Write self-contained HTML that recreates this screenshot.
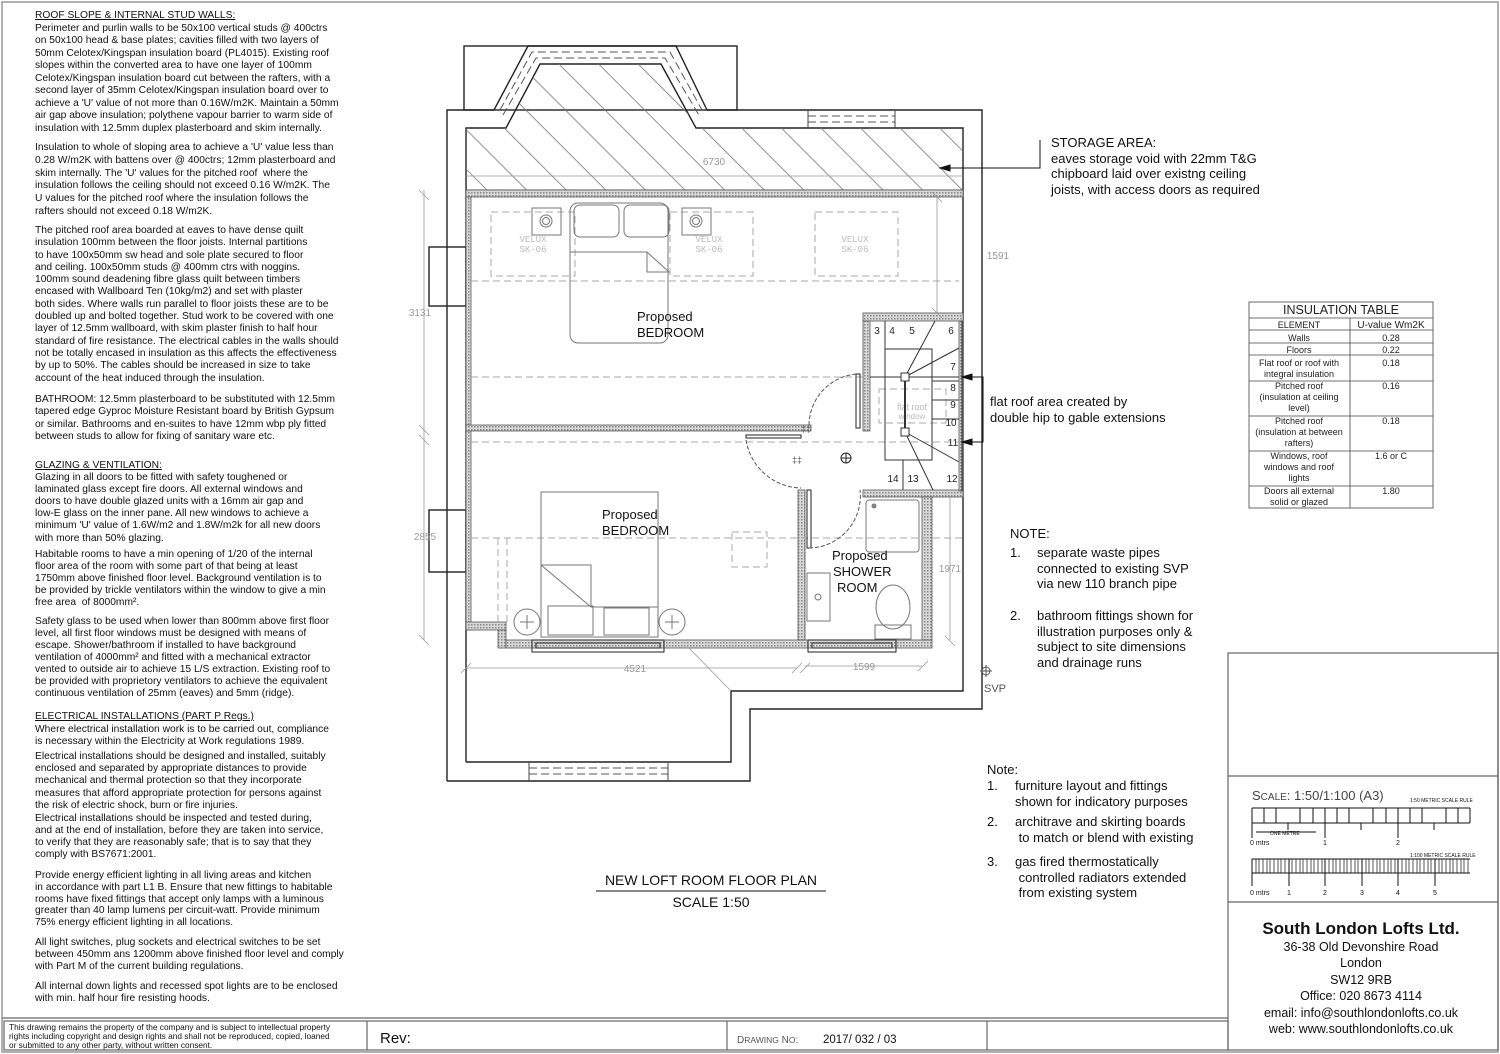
<!DOCTYPE html>
<html><head><meta charset="utf-8">
<style>
html,body{margin:0;padding:0;background:#fff;}
body{width:1500px;height:1054px;position:relative;overflow:hidden;font-family:"Liberation Sans",Arial,sans-serif;color:#111;}
.p{position:absolute;left:35px;font-size:10.25px;line-height:12.3px;white-space:nowrap;}
.u{text-decoration:underline;}
.n{position:absolute;font-size:13px;line-height:15.5px;white-space:nowrap;color:#111;}
svg{position:absolute;left:0;top:0;}
</style></head><body>
<svg width="1500" height="1054" viewBox="0 0 1500 1054">
<defs>
<pattern id="hatch" patternUnits="userSpaceOnUse" width="28" height="28" patternTransform="rotate(-45)">
<line x1="0" y1="0" x2="0" y2="28" stroke="#777" stroke-width="0.8" transform="translate(14,0)"/>
</pattern>
<pattern id="stip" patternUnits="userSpaceOnUse" width="3" height="3">
<rect width="3" height="3" fill="#d8d8d8"/><rect x="0" y="0" width="1.5" height="1.5" fill="#888"/>
</pattern>
</defs>
<rect x="2" y="2" width="1496" height="1050" fill="none" stroke="#999" stroke-width="1.5"/>
<g fill="none" stroke="#222" stroke-width="1.4">
<rect x="464" y="46" width="273" height="64"/>
<polyline points="447,781 447,110 494,110"/>
<polyline points="707,110 982,110 982,709 750,709 750,781 447,781"/>
<polyline points="494,110 528,46 676,46 707,110"/>
<polyline points="466,762 466,128 506,128 540,64 661,64 696,128 963,128 963,691 731,691 731,762 466,762"/>
<rect x="429" y="247" width="37" height="59"/>
<rect x="429" y="510" width="37" height="62"/>
</g>
<g fill="none" stroke="#555" stroke-width="1" stroke-dasharray="8,4">
<polyline points="500,110 532,52 670,52 702,110"/>
<polyline points="503,115 536,58 665,58 699,115"/>
<line x1="808" y1="116" x2="895" y2="116"/><line x1="808" y1="122" x2="895" y2="122"/>
<line x1="529" y1="768" x2="668" y2="768"/><line x1="529" y1="774" x2="668" y2="774"/>
</g>
<g stroke="#444" stroke-width="1"><line x1="808" y1="110" x2="808" y2="128"/><line x1="895" y1="110" x2="895" y2="128"/>
<line x1="529" y1="762" x2="529" y2="781"/><line x1="668" y1="762" x2="668" y2="781"/></g>
<polygon points="466,190 466,128 506,128 540,64 661,64 696,128 963,128 963,190" fill="url(#hatch)" stroke="none"/>
<line x1="466" y1="190" x2="963" y2="190" stroke="#444"/>
<g fill="url(#stip)" stroke="#555" stroke-width="0.8">
<rect x="466" y="190" width="497" height="7"/>
<rect x="466" y="197" width="5" height="433"/>
<rect x="466" y="425" width="345" height="6"/>
<rect x="863" y="313" width="100" height="8"/>
<rect x="863" y="321" width="7" height="110"/>
<rect x="466" y="622" width="40" height="8"/>
<rect x="498" y="630" width="8" height="18"/>
<rect x="506" y="640" width="426" height="8"/>
<rect x="798" y="490" width="7" height="150"/>
<rect x="863" y="490" width="100" height="7"/>
<rect x="922" y="497" width="10" height="143"/>
<rect x="959" y="321" width="4" height="170"/>
</g>
<g fill="none" stroke="#aaa" stroke-width="1" stroke-dasharray="7,4">
<line x1="471" y1="281" x2="959" y2="281"/>
<line x1="471" y1="377" x2="959" y2="377"/>
<line x1="471" y1="442" x2="959" y2="442"/>
<line x1="471" y1="538" x2="963" y2="538"/>
<rect x="491" y="212" width="84" height="64"/><rect x="670" y="212" width="83" height="64"/><rect x="815" y="212" width="83" height="64"/>
<rect x="732" y="532" width="35" height="35"/>
<line x1="498" y1="538" x2="498" y2="622"/><line x1="507" y1="538" x2="507" y2="622"/>
<rect x="879" y="389" width="67" height="34"/>
</g>
<g font-family="Liberation Mono,monospace" font-size="9" fill="#bbb" text-anchor="middle">
<text x="533" y="242">VELUX</text><text x="533" y="252">SK-06</text>
<text x="709" y="242">VELUX</text><text x="709" y="252">SK-06</text>
<text x="855" y="242">VELUX</text><text x="855" y="252">SK-06</text>
<text x="912" y="410" font-family="Liberation Sans" font-size="9">flat roof</text>
<text x="912" y="419" font-family="Liberation Sans" font-size="8">window</text>
</g>
<g fill="none" stroke="#777" stroke-width="1">
<rect x="570" y="203" width="98" height="140" rx="8"/>
<rect x="574" y="205" width="45" height="32" rx="6"/><rect x="624" y="205" width="45" height="32" rx="6"/>
<line x1="570" y1="252" x2="647" y2="252"/><polyline points="647,252 669,272 647,272 647,252"/>
<rect x="532" y="208" width="29" height="27"/><circle cx="546" cy="221" r="6"/><circle cx="546" cy="221" r="3.5"/>
<rect x="682" y="208" width="29" height="27"/><circle cx="696" cy="221" r="6"/><circle cx="696" cy="221" r="3.5"/>
<rect x="541" y="492" width="117" height="145"/>
<polyline points="541,565 591,565 591,607 658,607"/><line x1="541" y1="565" x2="591" y2="607"/>
<rect x="548" y="606" width="45" height="29"/><rect x="604" y="608" width="45" height="27"/>
<circle cx="527" cy="622" r="13"/><circle cx="672" cy="622" r="13"/>
<path d="M520 622h14M527 615v14M665 622h14M672 615v14"/>
<rect x="866" y="500" width="53" height="52" rx="3"/><circle cx="874" cy="506" r="2" fill="#888"/>
<rect x="807" y="573" width="23" height="48"/><circle cx="818" cy="597" r="3"/>
<ellipse cx="893" cy="607" rx="17" ry="22"/><rect x="875" y="625" width="36" height="14"/>
</g>
<g fill="none" stroke="#333" stroke-width="1">
<line x1="870" y1="377" x2="959" y2="377"/>
<line x1="885" y1="321" x2="885" y2="377"/>
<rect x="885" y="349" width="47" height="111"/>
<line x1="905" y1="377" x2="935" y2="321"/><line x1="905" y1="377" x2="959" y2="348"/>
<line x1="905" y1="377" x2="905" y2="432" stroke-width="2"/>
<line x1="932" y1="381" x2="959" y2="381"/><line x1="932" y1="400" x2="959" y2="400"/><line x1="932" y1="419" x2="959" y2="419"/>
<line x1="905" y1="432" x2="959" y2="462"/><line x1="905" y1="432" x2="933" y2="490"/>
<line x1="903" y1="460" x2="903" y2="490"/>
<rect x="901" y="373" width="8" height="8" fill="#fff"/><rect x="901" y="428" width="8" height="8" fill="#fff"/>
<line x1="962" y1="321" x2="962" y2="491"/>
</g>
<g font-size="10" fill="#222" text-anchor="middle">
<text x="877" y="334">3</text><text x="892" y="334">4</text><text x="912" y="334">5</text><text x="951" y="334">6</text>
<text x="953" y="370">7</text><text x="953" y="391">8</text><text x="953" y="408">9</text><text x="951" y="426">10</text><text x="953" y="446">11</text>
<text x="893" y="482">14</text><text x="913" y="482">13</text><text x="952" y="482">12</text>
</g>
<g fill="none" stroke="#222" stroke-width="1">
<rect x="856" y="374" width="4" height="54"/>
<path d="M809 425 A52 52 0 0 1 856 374" stroke-dasharray="4,2" stroke="#555"/>
<rect x="746" y="435" width="55" height="3"/>
<path d="M746 440 A57 57 0 0 0 801 488" stroke-dasharray="4,2" stroke="#555"/>
<rect x="807" y="490" width="4" height="58"/>
<path d="M809 548 A52 52 0 0 0 860 490" stroke-dasharray="4,2" stroke="#555"/>
<circle cx="846" cy="458" r="5"/><path d="M841 458h10M846 453v10"/>
<rect x="532" y="640" width="132" height="12"/><rect x="536" y="643" width="124" height="5"/>
<rect x="808" y="640" width="88" height="12"/><rect x="812" y="643" width="80" height="5"/>
</g>
<g font-size="9" fill="#555" text-anchor="middle"><text x="806" y="432">‡‡</text><text x="797" y="463">‡‡</text></g>
<g stroke="#999" stroke-width="0.8" fill="none">
<line x1="466" y1="176" x2="963" y2="176"/>
<line x1="424" y1="190" x2="424" y2="430"/><line x1="424" y1="430" x2="424" y2="640"/>
<line x1="937" y1="197" x2="937" y2="313"/>
<line x1="466" y1="668" x2="797" y2="668"/><line x1="805" y1="666" x2="922" y2="666"/>
<line x1="950" y1="497" x2="950" y2="640"/>
<line x1="689" y1="648" x2="731" y2="691"/>
<path d="M419 190l10 10M419 425l10 10M419 435l10 10M419 635l10 10M932 192l10 10M932 308l10 10M945 636l10 10M792 673l10-10M800 673l10-10M918 671l10-10M461 673l10-10"/>
</g>
<g font-size="10" fill="#999" text-anchor="middle">
<text x="714" y="165">6730</text>
<text x="420" y="316">3131</text><text x="425" y="540">2855</text>
<text x="998" y="259">1591</text>
<text x="635" y="672">4521</text><text x="864" y="670">1599</text>
<text x="950" y="572">1971</text>
</g>
<g fill="none" stroke="#555"><circle cx="986" cy="671" r="4"/><path d="M980 671h12M986 665v12"/></g>
<text x="984" y="692" font-size="11" fill="#555">SVP</text>
<g font-size="13" fill="#111">
<text x="637" y="321">Proposed</text><text x="637" y="337">BEDROOM</text>
<text x="602" y="519">Proposed</text><text x="602" y="535">BEDROOM</text>
<text x="832" y="560">Proposed</text><text x="833" y="576">SHOWER</text><text x="837" y="592">ROOM</text>
</g>
<g stroke="#111" stroke-width="1" fill="#111">
<polyline points="1040,140 1040,168 944,168" fill="none"/><polygon points="940,168 950,165 950,171"/>
<polyline points="962,377 983,377 983,442 962,442" fill="none"/>
<polygon points="962,377 972,374 972,380"/><polygon points="962,442 972,439 972,445"/>
</g>
<text x="711" y="885" font-size="14" text-anchor="middle" fill="#111">NEW LOFT ROOM FLOOR PLAN</text>
<line x1="596" y1="891" x2="826" y2="891" stroke="#111"/>
<text x="711" y="907" font-size="14" text-anchor="middle" fill="#111">SCALE 1:50</text>
<g fill="none" stroke="#444" stroke-width="0.8">
<rect x="1249" y="302" width="184" height="206"/>
<line x1="1249" y1="318" x2="1433" y2="318"/><line x1="1249" y1="330" x2="1433" y2="330"/>
<line x1="1249" y1="343" x2="1433" y2="343"/><line x1="1249" y1="355" x2="1433" y2="355"/>
<line x1="1249" y1="381" x2="1433" y2="381"/><line x1="1249" y1="416" x2="1433" y2="416"/>
<line x1="1249" y1="451" x2="1433" y2="451"/><line x1="1249" y1="486" x2="1433" y2="486"/>
<line x1="1350" y1="318" x2="1350" y2="508"/>
</g>
<g font-size="9" fill="#222" text-anchor="middle">
<text x="1341" y="314" font-size="12.5">INSULATION TABLE</text>
<text x="1299" y="328">ELEMENT</text><text x="1391" y="328" font-size="10">U-value Wm2K</text>
<text x="1299" y="341">Walls</text><text x="1391" y="341">0.28</text>
<text x="1299" y="353">Floors</text><text x="1391" y="353">0.22</text>
<text x="1299" y="366">Flat roof or roof with</text><text x="1299" y="377">integral insulation</text><text x="1391" y="366">0.18</text>
<text x="1299" y="389">Pitched roof</text><text x="1299" y="400">(insulation at ceiling</text><text x="1299" y="411">level)</text><text x="1391" y="389">0.16</text>
<text x="1299" y="424">Pitched roof</text><text x="1299" y="435">(insulation at between</text><text x="1299" y="446">rafters)</text><text x="1391" y="424">0.18</text>
<text x="1299" y="459">Windows, roof</text><text x="1299" y="470">windows and roof</text><text x="1299" y="481">lights</text><text x="1391" y="459">1.6 or C</text>
<text x="1299" y="494">Doors all external</text><text x="1299" y="505">solid or glazed</text><text x="1391" y="494">1.80</text>
</g>
<g fill="none" stroke="#666" stroke-width="1.2">
<rect x="1228" y="653" width="270" height="397"/>
<line x1="1228" y1="776" x2="1498" y2="776"/><line x1="1228" y1="902" x2="1498" y2="902"/>
<line x1="2" y1="1018" x2="1228" y2="1018"/>
<rect x="4" y="1021" width="1224" height="29"/>
<line x1="367" y1="1021" x2="367" y2="1050"/><line x1="727" y1="1021" x2="727" y2="1050"/><line x1="987" y1="1021" x2="987" y2="1050"/>
</g>
<text x="1252" y="800" font-size="13" fill="#444">S<tspan font-size="10">CALE</tspan>: 1:50/1:100 (A3)</text>
<text x="1410" y="802" font-size="5" fill="#111">1:50 METRIC SCALE RULE</text>
<text x="1410" y="857" font-size="5" fill="#111">1:100 METRIC SCALE RULE</text>
<g stroke="#111" stroke-width="1" fill="none">
<line x1="1252" y1="808" x2="1470" y2="808"/><line x1="1252" y1="823" x2="1470" y2="823"/>
<path d="M1252 808v30M1325 808v30M1398 808v30M1288 823v7M1361 823v7M1434 823v7M1264 808v15M1276 808v15M1300 808v15M1313 808v15M1337 808v15M1349 808v15M1373 808v15M1386 808v15M1410 808v15M1422 808v15M1446 808v15M1458 808v15M1470 808v15"/>
<path d="M1256 832h60"/>
<line x1="1252" y1="859" x2="1470" y2="859"/><line x1="1252" y1="873" x2="1470" y2="873"/>
<path d="M1252 859v27M1289 859v27M1325 859v27M1362 859v27M1398 859v27M1435 859v27"/>
</g>
<g stroke="#111" stroke-width="0.7"><path d="M1256 859v14M1259 859v14M1263 859v14M1267 859v14M1270 859v14M1274 859v14M1278 859v14M1281 859v14M1285 859v14M1292 859v14M1296 859v14M1300 859v14M1303 859v14M1307 859v14M1311 859v14M1314 859v14M1318 859v14M1322 859v14M1329 859v14M1333 859v14M1336 859v14M1340 859v14M1344 859v14M1347 859v14M1351 859v14M1355 859v14M1358 859v14M1366 859v14M1369 859v14M1373 859v14M1377 859v14M1380 859v14M1384 859v14M1388 859v14M1391 859v14M1395 859v14M1402 859v14M1406 859v14M1409 859v14M1413 859v14M1417 859v14M1420 859v14M1424 859v14M1428 859v14M1431 859v14M1439 859v14M1442 859v14M1446 859v14M1450 859v14M1453 859v14M1457 859v14M1461 859v14M1464 859v14M1468 859v14"/></g>
<g font-size="7" fill="#111">
<text x="1250" y="845">0 mtrs</text><text x="1323" y="845">1</text><text x="1396" y="845">2</text>
<text x="1270" y="835" font-size="5">ONE METRE</text>
<text x="1250" y="895">0 mtrs</text><text x="1287" y="895">1</text><text x="1323" y="895">2</text><text x="1360" y="895">3</text><text x="1396" y="895">4</text><text x="1433" y="895">5</text>
</g>
<g text-anchor="middle" fill="#111" font-size="12.5">
<text x="1361" y="934" font-size="17" font-weight="bold">South London Lofts Ltd.</text>
<text x="1361" y="951">36-38 Old Devonshire Road</text>
<text x="1361" y="967">London</text>
<text x="1361" y="984">SW12 9RB</text>
<text x="1361" y="1000">Office: 020 8673 4114</text>
<text x="1361" y="1017">email: info@southlondonlofts.co.uk</text>
<text x="1361" y="1033">web: www.southlondonlofts.co.uk</text>
</g>
<g fill="#111">
<text x="9" y="1030" font-size="8.3">This drawing remains the property of the company and is subject to intellectual property</text>
<text x="9" y="1039" font-size="8.3">rights including copyright and design rights and shall not be reproduced, copied, loaned</text>
<text x="9" y="1048" font-size="8.3">or submitted to any other party, without written consent.</text>
<text x="380" y="1043" font-size="15">Rev:</text>
<text x="737" y="1043" font-size="10" fill="#555">D<tspan font-size="8.5">RAWING</tspan> N<tspan font-size="8.5">O</tspan>:</text>
<text x="823" y="1043" font-size="11.5">2017/ 032 / 03</text>
</g>
</svg>

<div class="n" style="left:1051px;top:135px;">STORAGE AREA:<br>eaves storage void with 22mm T&amp;G<br>chipboard laid over existng ceiling<br>joists, with access doors as required</div>
<div class="n" style="left:990px;top:394px;">flat roof area created by<br>double hip to gable extensions</div>
<div class="n" style="left:1010px;top:526px;">NOTE:</div>
<div class="n" style="left:1010px;top:545px;">1.</div>
<div class="n" style="left:1037px;top:545px;">separate waste pipes<br>connected to existing SVP<br>via new 110 branch pipe</div>
<div class="n" style="left:1010px;top:608px;">2.</div>
<div class="n" style="left:1037px;top:608px;">bathroom fittings shown for<br>illustration purposes only &amp;<br>subject to site dimensions<br>and drainage runs</div>
<div class="n" style="left:987px;top:762px;">Note:</div>
<div class="n" style="left:987px;top:778px;">1.</div><div class="n" style="left:1015px;top:778px;">furniture layout and fittings<br>shown for indicatory purposes</div>
<div class="n" style="left:987px;top:814px;">2.</div><div class="n" style="left:1015px;top:814px;">architrave and skirting boards<br>&nbsp;to match or blend with existing</div>
<div class="n" style="left:987px;top:854px;">3.</div><div class="n" style="left:1015px;top:854px;">gas fired thermostatically<br>&nbsp;controlled radiators extended<br>&nbsp;from existing system</div>

<div class="p" style="top:10px;line-height:12.55px;"><span class="u">ROOF SLOPE &amp; INTERNAL STUD WALLS:</span><br>Perimeter and purlin walls to be 50x100 vertical studs @ 400ctrs<br>on 50x100 head &amp; base plates; cavities filled with two layers of<br>50mm Celotex/Kingspan insulation board (PL4015). Existing roof<br>slopes within the converted area to have one layer of 100mm<br>Celotex/Kingspan insulation board cut between the rafters, with a<br>second layer of 35mm Celotex/Kingspan insulation board over to<br>achieve a 'U' value of not more than 0.16W/m2K. Maintain a 50mm<br>air gap above insulation; polythene vapour barrier to warm side of<br>insulation with 12.5mm duplex plasterboard and skim internally.</div>
<div class="p" style="top:142px;line-height:12.8px;">Insulation to whole of sloping area to achieve a 'U' value less than<br>0.28 W/m2K with battens over @ 400ctrs; 12mm plasterboard and<br>skim internally. The 'U' values for the pitched roof&nbsp; where the<br>insulation follows the ceiling should not exceed 0.16 W/m2K. The<br>U values for the pitched roof where the insulation follows the<br>rafters should not exceed 0.18 W/m2K.</div>
<div class="p" style="top:225px;">The pitched roof area boarded at eaves to have dense quilt<br>insulation 100mm between the floor joists. Internal partitions<br>to have 100x50mm sw head and sole plate secured to floor<br>and ceiling. 100x50mm studs @ 400mm ctrs with noggins.<br>100mm sound deadening fibre glass quilt between timbers<br>encased with Wallboard Ten (10kg/m2) and set with plaster<br>both sides. Where walls run parallel to floor joists these are to be<br>doubled up and bolted together. Stud work to be covered with one<br>layer of 12.5mm wallboard, with skim plaster finish to half hour<br>standard of fire resistance. The electrical cables in the walls should<br>not be totally encased in insulation as this affects the effectiveness<br>by up to 50%. The cables should be increased in size to take<br>account of the heat induced through the insulation.</div>
<div class="p" style="top:394px;">BATHROOM: 12.5mm plasterboard to be substituted with 12.5mm<br>tapered edge Gyproc Moisture Resistant board by British Gypsum<br>or similar. Bathrooms and en-suites to have 12mm wbp ply fitted<br>between studs to allow for fixing of sanitary ware etc.</div>
<div class="p" style="top:460px;line-height:12.1px;"><span class="u">GLAZING &amp; VENTILATION:</span><br>Glazing in all doors to be fitted with safety toughened or<br>laminated glass except fire doors. All external windows and<br>doors to have double glazed units with a 16mm air gap and<br>low-E glass on the inner pane. All new windows to achieve a<br>minimum 'U' value of 1.6W/m2 and 1.8W/m2k for all new doors<br>with more than 50% glazing.</div>
<div class="p" style="top:549px;line-height:12px;">Habitable rooms to have a min opening of 1/20 of the internal<br>floor area of the room with some part of that being at least<br>1750mm above finished floor level. Background ventilation is to<br>be provided by trickle ventilators within the window to give a min<br>free area&nbsp; of 8000mm².</div>
<div class="p" style="top:616px;line-height:12px;">Safety glass to be used when lower than 800mm above first floor<br>level, all first floor windows must be designed with means of<br>escape. Shower/bathroom if installed to have background<br>ventilation of 4000mm² and fitted with a mechanical extractor<br>vented to outside air to achieve 15 L/S extraction. Existing roof to<br>be provided with proprietory ventilators to achieve the equivalent<br>continuous ventilation of 25mm (eaves) and 5mm (ridge).</div>
<div class="p" style="top:711px;line-height:12.5px;"><span class="u">ELECTRICAL INSTALLATIONS (PART P Regs.)</span><br>Where electrical installation work is to be carried out, compliance<br>is necessary within the Electricity at Work regulations 1989.</div>
<div class="p" style="top:751px;line-height:12.2px;">Electrical installations should be designed and installed, suitably<br>enclosed and separated by appropriate distances to provide<br>mechanical and thermal protection so that they incorporate<br>measures that afford appropriate protection for persons against<br>the risk of electric shock, burn or fire injuries.</div>
<div class="p" style="top:813px;line-height:12px;">Electrical installations should be inspected and tested during,<br>and at the end of installation, before they are taken into service,<br>to verify that they are reasonably safe; that is to say that they<br>comply with BS7671:2001.</div>
<div class="p" style="top:870px;line-height:11.8px;">Provide energy efficient lighting in all living areas and kitchen<br>in accordance with part L1 B. Ensure that new fittings to habitable<br>rooms have fixed fittings that accept only lamps with a luminous<br>greater than 40 lamp lumens per circuit-watt. Provide minimum<br>75% energy efficient lighting in all locations.</div>
<div class="p" style="top:937px;line-height:11.8px;">All light switches, plug sockets and electrical switches to be set<br>between 450mm ans 1200mm above finished floor level and comply<br>with Part M of the current building regulations.</div>
<div class="p" style="top:981px;line-height:11.8px;">All internal down lights and recessed spot lights are to be enclosed<br>with min. half hour fire resisting hoods.</div>
</body></html>
